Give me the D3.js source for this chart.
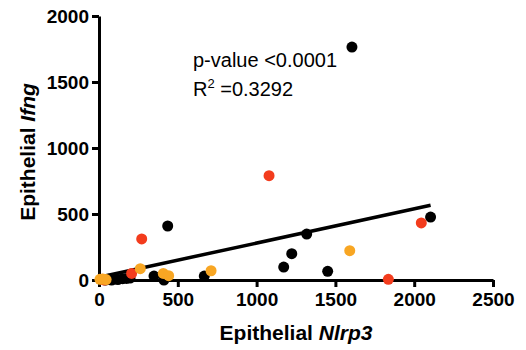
<!DOCTYPE html>
<html>
<head>
<meta charset="utf-8">
<script src="https://cdn.jsdelivr.net/npm/d3@7"></script>
<style>
  body { margin: 0; background: #fff; }
  svg { display: block; font-family: "Liberation Sans", Arial, Helvetica, sans-serif; }
</style>
</head>
<body>
<figure id="scatter" style="margin:0"></figure>
<script>
// values
const blackX = [1605, 1318, 1223, 1172, 1451, 2104, 436, 349, 412, 668, 40, 60, 80, 100, 120, 150, 175, 197];
const blackY = [1765, 348, 199, 98, 66, 477, 409, 30, 0, 30, 0, 5, 0, 8, 3, 10, 12, 15];
const redX = [1079, 1836, 2045, 271, 207, 20, 35];
const redY = [790, 5, 432, 311, 50, 5, 0];
const orangeX = [1591, 262, 408, 442, 711, 6, 25, 45];
const orangeY = [222, 86, 50, 33, 70, 5, 8, 3];

const xTicks = [0, 500, 1000, 1500, 2000, 2500];
const yTicks = [0, 500, 1000, 1500, 2000];

// linear fit shown on the chart
const fitIntercept = 21;
const fitSlope = 0.259;
const fitRange = [0, 2104];

const width = 526;
const height = 350;
const margin = { top: 16, right: 33, bottom: 70, left: 99 };

const svg = d3.select('figure#scatter')
  .append('svg')
  .attr('width', width)
  .attr('height', height);

const x = d3.scaleLinear()
  .domain([0, 2500])
  .range([margin.left, width - margin.right]);

const y = d3.scaleLinear()
  .domain([0, 2000])
  .range([height - margin.bottom, margin.top]);

// x axis
const gx = svg.append('g')
  .attr('transform', 'translate(0,' + y(0) + ')')
  .call(d3.axisBottom(x).tickValues(xTicks).tickFormat(d3.format('d'))
    .tickSize(7).tickSizeOuter(0).tickPadding(6));

// y axis
const gy = svg.append('g')
  .attr('transform', 'translate(' + x(0) + ',0)')
  .call(d3.axisLeft(y).tickValues(yTicks).tickFormat(d3.format('d'))
    .tickSize(7).tickSizeOuter(0).tickPadding(3));

[gx, gy].forEach(g => {
  g.select('.domain').attr('stroke', '#000').attr('stroke-width', 3);
  g.selectAll('.tick line').attr('stroke', '#000').attr('stroke-width', 3);
  g.selectAll('.tick text')
    .attr('fill', '#000')
    .style('font-size', '19px')
    .style('font-weight', 'bold')
    .style('font-family', '"Liberation Sans", Arial, sans-serif');
});

// axis titles
const xTitle = svg.append('text')
  .attr('x', (x(0) + x(2500)) / 2)
  .attr('y', 340)
  .attr('text-anchor', 'middle')
  .style('font-size', '21px')
  .style('font-weight', 'bold');
xTitle.append('tspan').text('Epithelial ');
xTitle.append('tspan').style('font-style', 'italic').text('Nlrp3');

const yTitle = svg.append('text')
  .attr('transform', 'translate(35,152) rotate(-90)')
  .attr('text-anchor', 'middle')
  .style('font-size', '21px')
  .style('font-weight', 'bold');
yTitle.append('tspan').text('Epithelial ');
yTitle.append('tspan').style('font-style', 'italic').text('Ifng');

// fit line
svg.append('line')
  .attr('x1', x(fitRange[0]))
  .attr('y1', y(fitIntercept + fitSlope * fitRange[0]))
  .attr('x2', x(fitRange[1]))
  .attr('y2', y(fitIntercept + fitSlope * fitRange[1]))
  .attr('stroke', '#000')
  .attr('stroke-width', 3.5);

// points
function drawPoints(xs, ys, color) {
  svg.append('g')
    .selectAll('circle')
    .data(xs.map((v, i) => [v, ys[i]]))
    .enter()
    .append('circle')
    .attr('cx', d => x(d[0]))
    .attr('cy', d => y(d[1]))
    .attr('r', 5.5)
    .attr('fill', color);
}
drawPoints(blackX, blackY, '#000000');
drawPoints(redX, redY, '#f33c1d');
drawPoints(orangeX, orangeY, '#f8a623');

// stats annotation
svg.append('text')
  .attr('x', 193)
  .attr('y', 67)
  .style('font-size', '20px')
  .text('p-value <0.0001');

const r2 = svg.append('text')
  .attr('x', 193)
  .attr('y', 96)
  .style('font-size', '20px');
r2.append('tspan').text('R');
r2.append('tspan').attr('dy', -8).style('font-size', '13px').text('2');
r2.append('tspan').attr('dy', 8).text(' =0.3292');
</script>
</body>
</html>
